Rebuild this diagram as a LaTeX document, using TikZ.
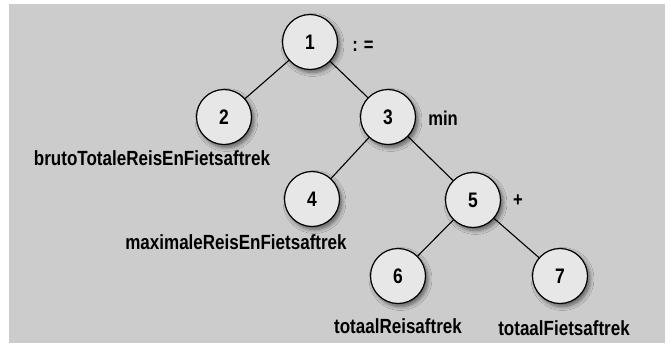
\documentclass[tikz,border=0pt]{standalone}
\usepackage{fontspec}
\setmainfont{Liberation Sans}[FakeStretch=0.83]
\usetikzlibrary{shadows.blur}
\definecolor{panelgray}{HTML}{CCCCCC}
\definecolor{nodefill}{HTML}{E7E7E7}
\tikzset{
  treenode/.style={circle, draw=black, line width=1.2pt, fill=nodefill,
    minimum size=55pt, inner sep=0pt,
    blur shadow={shadow xshift=2.5pt, shadow yshift=-3pt, shadow opacity=55, shadow blur steps=6, shadow blur radius=4pt},
    font=\fontsize{21}{21}\selectfont\bfseries},
  varlabel/.style={anchor=base, inner sep=0pt, font=\fontsize{20.5}{20.5}\selectfont\bfseries},
  oplabel/.style={inner sep=0pt, font=\fontsize{20}{20}\selectfont\bfseries},
  edge/.style={line width=1.1pt, draw=black}
}
\begin{document}
\begin{tikzpicture}[x=1pt,y=-1pt]
  \useasboundingbox (0,0) rectangle (671,346);
  \fill[white] (0,0) rectangle (671,346);
  \fill[panelgray] (9,4) rectangle (665,343);

  % the tree of the assignment
  \node[treenode] (n1) at (310,42) {1};
  \node[treenode] (n2) at (224,117) {2};
  \node[treenode] (n3) at (388,117) {3};
  \node[treenode] (n4) at (312,199) {4};
  \node[treenode] (n5) at (473,200) {5};
  \node[treenode] (n6) at (398,276) {6};
  \node[treenode] (n7) at (560,276) {7};

  \draw[edge] (n1) -- (n2);
  \draw[edge] (n1) -- (n3);
  \draw[edge] (n3) -- (n4);
  \draw[edge] (n3) -- (n5);
  \draw[edge] (n5) -- (n6);
  \draw[edge] (n5) -- (n7);

  % operators
  \node[oplabel] (op1) at (363,46) {: =};
  \node[oplabel] (op3) at (443,118) {min};
  \node[oplabel] (op5) at (518,201) {+};

  % variable names
  \node[varlabel] (v2) at (152,165) {brutoTotaleReisEnFietsaftrek};
  \node[varlabel] (v4) at (236,249) {maximaleReisEnFietsaftrek};
  \node[varlabel] (v6) at (398,333) {totaalReisaftrek};
  \node[varlabel] (v7) at (564,335) {totaalFietsaftrek};
\end{tikzpicture}
\end{document}
